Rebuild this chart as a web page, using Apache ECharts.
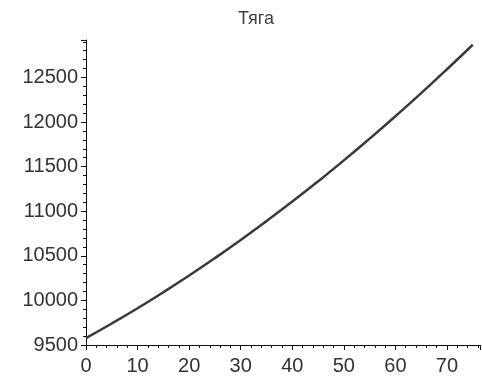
<!DOCTYPE html>
<html>
<head>
<meta charset="utf-8">
<script src="https://cdn.jsdelivr.net/npm/echarts@6/dist/echarts.min.js"></script>
<style>
html,body{margin:0;padding:0;background:#fff;}
#c{width:482px;height:376px;}
</style>
</head>
<body>
<div id="c"></div>
<script>
var titleText = 'Тяга';
var timeValues = [0, 5, 10, 15, 20, 25, 30, 35, 40, 45, 50, 55, 60, 65, 70, 75];
var thrustValues = [9578, 9741, 9912, 10092, 10279, 10474, 10677, 10889, 11108, 11335, 11570, 11814, 12065, 12324, 12592, 12867];
var xTickStep = 10;
var yTickStep = 500;

var seriesData = timeValues.map(function (t, i) { return [t, thrustValues[i]]; });

var chart = echarts.init(document.getElementById('c'), null, {renderer: 'canvas'});
var labelFont = {fontFamily: 'Liberation Sans, Arial, sans-serif', fontSize: 20, color: '#333'};
function plain(v) { return String(Math.round(v)); }
chart.setOption({
  animation: false,
  backgroundColor: '#fff',
  title: {
    text: titleText,
    left: 251, top: 5, textAlign: 'center',
    textStyle: {fontFamily: 'Liberation Sans, Arial, sans-serif', fontSize: 18, fontWeight: 'normal', color: '#444'}
  },
  grid: {left: 86, right: 2, top: 40, bottom: 28, containLabel: false},
  xAxis: {
    type: 'value', min: 0, max: 76.4, interval: xTickStep,
    axisLine: {show: true, onZero: false, lineStyle: {color: '#111', width: 1}},
    axisTick: {show: true, length: 5, lineStyle: {color: '#111'}},
    minorTick: {show: true, splitNumber: 5, length: 3, lineStyle: {color: '#111'}},
    splitLine: {show: false},
    axisLabel: Object.assign({margin: 11, showMaxLabel: false, formatter: plain}, labelFont)
  },
  yAxis: {
    type: 'value', min: 9500, max: 12920, interval: yTickStep,
    axisLine: {show: true, onZero: false, lineStyle: {color: '#111', width: 1}},
    axisTick: {show: true, length: 5, lineStyle: {color: '#111'}},
    minorTick: {show: true, splitNumber: 5, length: 3, lineStyle: {color: '#111'}},
    splitLine: {show: false},
    axisLabel: Object.assign({margin: 8, showMaxLabel: false, formatter: plain}, labelFont)
  },
  series: [{
    type: 'line',
    data: seriesData,
    smooth: true,
    showSymbol: false,
    lineStyle: {color: '#3a3a3a', width: 2.5}
  }]
});
</script>
</body>
</html>
